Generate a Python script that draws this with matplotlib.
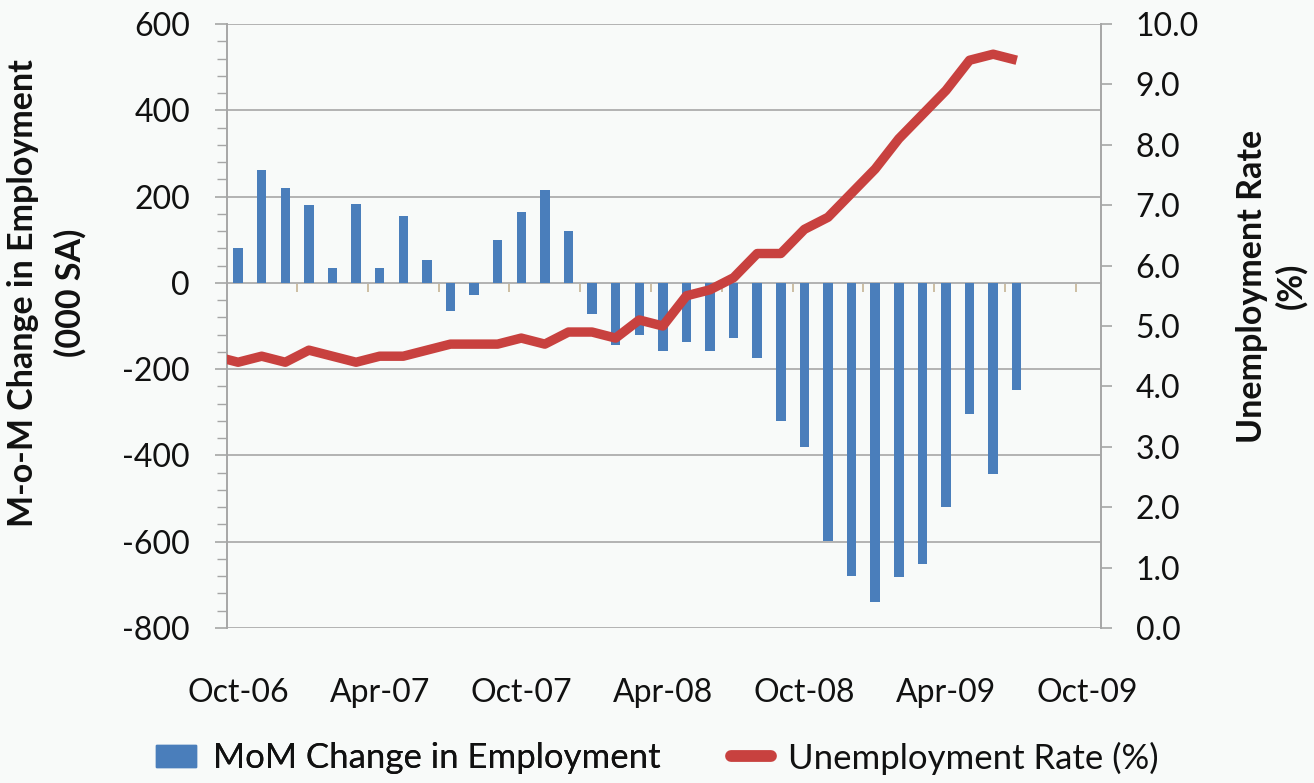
import numpy as np
import matplotlib
matplotlib.use("Agg")
import matplotlib.pyplot as plt
import matplotlib.patches as mpatches
from matplotlib.lines import Line2D
from matplotlib.ticker import MultipleLocator, FormatStrFormatter

plt.rcParams['font.family'] = ['Lato', 'DejaVu Sans']
plt.rcParams['axes.unicode_minus'] = False

# ---------------- data ----------------
# Month-over-month change in employment (000, SA), Oct-06 .. Jul-09
mom_months = ['Oct-06', 'Nov-06', 'Dec-06', 'Jan-07', 'Feb-07', 'Mar-07', 'Apr-07', 'May-07',
              'Jun-07', 'Jul-07', 'Aug-07', 'Sep-07', 'Oct-07', 'Nov-07', 'Dec-07', 'Jan-08',
              'Feb-08', 'Mar-08', 'Apr-08', 'May-08', 'Jun-08', 'Jul-08', 'Aug-08', 'Sep-08',
              'Oct-08', 'Nov-08', 'Dec-08', 'Jan-09', 'Feb-09', 'Mar-09', 'Apr-09', 'May-09',
              'Jun-09', 'Jul-09']
mom_change = [81, 261, 219, 180, 35, 183, 35, 155, 54, -66, -29, 100, 164, 215, 120, -72,
              -143, -122, -159, -137, -159, -127, -175, -321, -380, -598, -680, -740, -681,
              -652, -519, -303, -444, -248]

# Unemployment rate (%), Sep-06 .. Jul-09 (Sep-06 lies just left of the plotted range)
unemp_months = ['Sep-06'] + mom_months
unemp_rate = [4.5, 4.4, 4.5, 4.4, 4.6, 4.5, 4.4, 4.5, 4.5, 4.6, 4.7, 4.7, 4.7, 4.8, 4.7,
              4.9, 4.9, 4.8, 5.1, 5.0, 5.5, 5.6, 5.8, 6.2, 6.2, 6.6, 6.8, 7.2, 7.6, 8.1,
              8.5, 8.9, 9.4, 9.5, 9.4]

xtick_labels = ['Oct-06', 'Apr-07', 'Oct-07', 'Apr-08', 'Oct-08', 'Apr-09', 'Oct-09']

series_labels = ['MoM Change in Employment', 'Unemployment Rate (%)']

# ---------------- styling ----------------
BAR_C = '#4a7ebb'
LINE_C = '#c8413f'
GRID_C = '#b3b3b3'
AX_C = '#a6a6a6'
TICK_C = '#c9b99c'
BG = '#f8faf9'
TXT = '#111111'
W, H = 1314, 783

fig = plt.figure(figsize=(W / 100, H / 100), dpi=100, facecolor=BG)
ax = fig.add_axes([227 / W, 1 - 628 / H, (1101 - 227) / W, (628 - 24) / H])
ax.set_facecolor(BG)

# x positions: month index relative to Oct-06
x_bar = np.arange(len(mom_months))
x_line = np.arange(len(unemp_months)) - 1

ax.bar(x_bar, mom_change, width=0.40, color=BAR_C, zorder=3)

ax.set_ylim(-800, 600)
ax.set_xlim(-0.47, 36.57)
ax.yaxis.set_major_locator(MultipleLocator(200))
ax.yaxis.set_minor_locator(MultipleLocator(40))
ax.yaxis.grid(True, which='major', color=GRID_C, lw=1.4, zorder=0)
ax.set_axisbelow(True)

for s in ['top', 'bottom', 'right']:
    ax.spines[s].set_visible(False)
ax.spines['left'].set_color(AX_C)
ax.spines['left'].set_linewidth(1.4)

ax.tick_params(axis='y', which='major', length=8.6, width=1.2, color=AX_C,
               labelsize=23, labelcolor=TXT, pad=18)
ax.tick_params(axis='y', which='minor', length=7.0, width=1.0, color=AX_C)

# x tick labels at the bottom (every 6 months)
ax.set_xticks(np.arange(len(xtick_labels)) * 6)
ax.set_xticklabels(xtick_labels)
ax.tick_params(axis='x', length=0, labelsize=23, labelcolor=TXT, pad=36)

# tick marks along the zero line
ylo, yhi = ax.get_ylim()
secax = ax.secondary_xaxis((0 - ylo) / (yhi - ylo))
secax.set_alignment('bottom')
secax.set_xticks(np.arange(2.5, 36.6, 3))
secax.set_xticklabels([])
secax.tick_params(axis='x', direction='out', length=6.5, width=1.3, color=TICK_C)
for s in secax.spines.values():
    s.set_color(GRID_C)
    s.set_linewidth(1.4)

# right axis: unemployment
ax2 = ax.twinx()
ax2.plot(x_line, unemp_rate, color=LINE_C, lw=6.8, solid_capstyle='butt',
         solid_joinstyle='round', zorder=4)
ax2.set_ylim(0, 10)
ax2.yaxis.set_major_locator(MultipleLocator(1))
ax2.yaxis.set_major_formatter(FormatStrFormatter('%.1f'))
for s in ['top', 'bottom', 'left']:
    ax2.spines[s].set_visible(False)
ax2.spines['right'].set_color(AX_C)
ax2.spines['right'].set_linewidth(1.4)
ax2.tick_params(axis='y', length=8, width=1.2, color=AX_C, labelsize=23,
                labelcolor=TXT, pad=17)

# axis titles
TS = 24.5
fig.text(23 / W, 1 - 293 / H, 'M-o-M Change in Employment', rotation=90,
         ha='center', va='center', fontsize=TS, fontweight='bold', color=TXT)
fig.text(70 / W, 1 - 293 / H, '(000 SA)', rotation=90,
         ha='center', va='center', fontsize=TS, fontweight='bold', color=TXT)
fig.text(1252 / W, 1 - 286 / H, 'Unemployment Rate', rotation=90,
         ha='center', va='center', fontsize=TS, fontweight='bold', color=TXT)
fig.text(1291 / W, 1 - 286 / H, '(%)', rotation=90,
         ha='center', va='center', fontsize=TS, fontweight='bold', color=TXT)

# legend (two single-entry legends, placed like the original)
leg_kw = dict(loc='center left', frameon=False, fontsize=25, handlelength=1.15,
              handletextpad=0.5, borderpad=0, borderaxespad=0, labelcolor=TXT)
bar_key = mpatches.Patch(color=BAR_C)
line_key = Line2D([], [], color=LINE_C, lw=8.5, solid_capstyle='round')
leg1 = fig.legend([bar_key], [series_labels[0]], bbox_to_anchor=(156 / W, 1 - 758 / H),
                  handleheight=0.58, **leg_kw)
fig.add_artist(leg1)
fig.legend([line_key], [series_labels[1]], bbox_to_anchor=(731 / W, 1 - 758 / H), **leg_kw)

fig.savefig('out.png', dpi=100, facecolor=BG)
